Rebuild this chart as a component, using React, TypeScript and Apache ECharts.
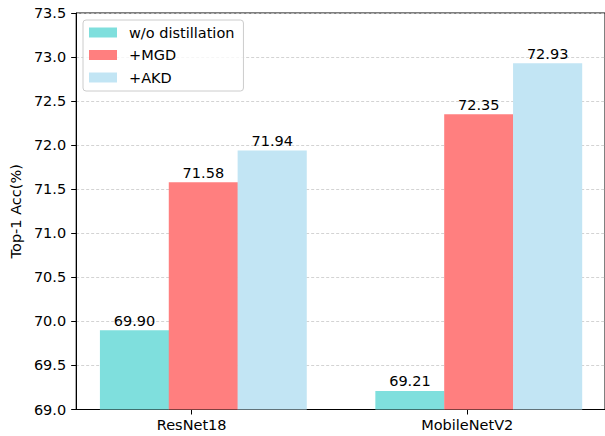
import React, { useEffect, useRef } from "react";
import * as echarts from "echarts";

const categories = ["ResNet18", "MobileNetV2"];
const seriesNames = ["w/o distillation", "+MGD", "+AKD"];
const woDistillation = [69.9, 69.21];
const mgd = [71.58, 72.35];
const akd = [71.94, 72.93];
const colors = ["#7fdfdd", "#ff7f7f", "#c2e5f4"];
// bar centre offsets relative to each category tick (in category units)
const barOffsets = [-0.2083, 0.0417, 0.2917];
const BAR_W = 0.25;

const W = 605;
const H = 436;
const LEFT = 76;
const RIGHT_EDGE = 607;
const TOP = 13;
const BOTTOM_Y = 409.5;
const XMIN = -0.42;
const XMAX = 1.5;

export default function App() {
  const ref = useRef<HTMLDivElement>(null);
  useEffect(() => {
    if (!ref.current) return;
    const chart = echarts.init(ref.current, null, { renderer: "svg" });
    const plotW = RIGHT_EDGE - LEFT;
    const scale = plotW / (XMAX - XMIN);
    const g1Left = LEFT + (0 - XMIN) * scale - scale / 2;
    const font = "DejaVu Sans";
    const fs = 14.5;
    const allValues = [woDistillation, mgd, akd];
    const series = allValues.map((vals, si) => ({
      name: seriesNames[si],
      type: "bar",
      xAxisIndex: 0,
      yAxisIndex: 0,
      barWidth: BAR_W * scale,
      barGap: "-100%",
      itemStyle: { color: colors[si] },
      data: vals.map((v, i) => [i + barOffsets[si], v]),
      label: {
        show: true,
        position: "top",
        distance: 2,
        color: "#000",
        fontFamily: font,
        fontSize: fs,
        formatter: (p: any) => p.value[1].toFixed(2),
      },
    }));
    chart.setOption({
      animation: false,
      textStyle: { fontFamily: font },
      grid: [
        {
          left: LEFT,
          width: plotW,
          top: TOP,
          height: BOTTOM_Y - TOP,
          show: true,
          borderColor: "#000",
          borderWidth: 1,
          backgroundColor: "transparent",
        },
        {
          left: g1Left,
          width: 2 * scale,
          top: TOP,
          height: BOTTOM_Y - TOP,
          show: false,
        },
      ],
      legend: {
        orient: "vertical",
        left: 83,
        top: 20,
        data: seriesNames,
        icon: "rect",
        itemWidth: 28,
        itemHeight: 10,
        itemGap: 7.5,
        padding: [5, 9, 6, 6],
        borderColor: "#cccccc",
        borderWidth: 1,
        borderRadius: 3,
        backgroundColor: "rgba(255,255,255,0.8)",
        textStyle: {
          fontFamily: font,
          fontSize: fs,
          color: "#000",
          padding: [0, 0, 0, 7],
        },
      },
      xAxis: [
        {
          type: "value",
          gridIndex: 0,
          min: XMIN,
          max: XMAX,
          axisLine: { show: true, onZero: false, lineStyle: { color: "#000", width: 1 } },
          axisTick: { show: false },
          axisLabel: { show: false },
          splitLine: { show: false },
        },
        {
          type: "category",
          gridIndex: 1,
          data: categories,
          boundaryGap: true,
          axisLine: { show: false, onZero: false },
          axisTick: {
            show: true,
            alignWithLabel: true,
            length: 5,
            lineStyle: { color: "#000", width: 1 },
          },
          axisLabel: {
            color: "#000",
            fontFamily: font,
            fontSize: fs,
            margin: 8,
          },
        },
      ],
      yAxis: [
        {
          type: "value",
          gridIndex: 0,
          min: 69,
          max: 73.5,
          interval: 0.5,
          name: "Top-1 Acc(%)",
          nameLocation: "middle",
          nameGap: 51,
          nameTextStyle: { color: "#000", fontFamily: font, fontSize: fs },
          axisLine: { show: true, onZero: false, lineStyle: { color: "#000", width: 1 } },
          axisTick: { show: true, length: 5, lineStyle: { color: "#000", width: 1 } },
          axisLabel: {
            color: "#000",
            fontFamily: font,
            fontSize: fs,
            margin: 10,
            formatter: (v: number) => v.toFixed(1),
          },
          splitLine: {
            show: true,
            lineStyle: { color: "#c8c8c8", width: 0.8, type: [3, 2] },
          },
        },
        { type: "value", gridIndex: 1, show: false },
      ],
      series,
    });
    return () => chart.dispose();
  }, []);
  return (
    <div
      ref={ref}
      style={{ position: "fixed", left: 0, top: 0, width: W, height: H, background: "#fff" }}
    />
  );
}
